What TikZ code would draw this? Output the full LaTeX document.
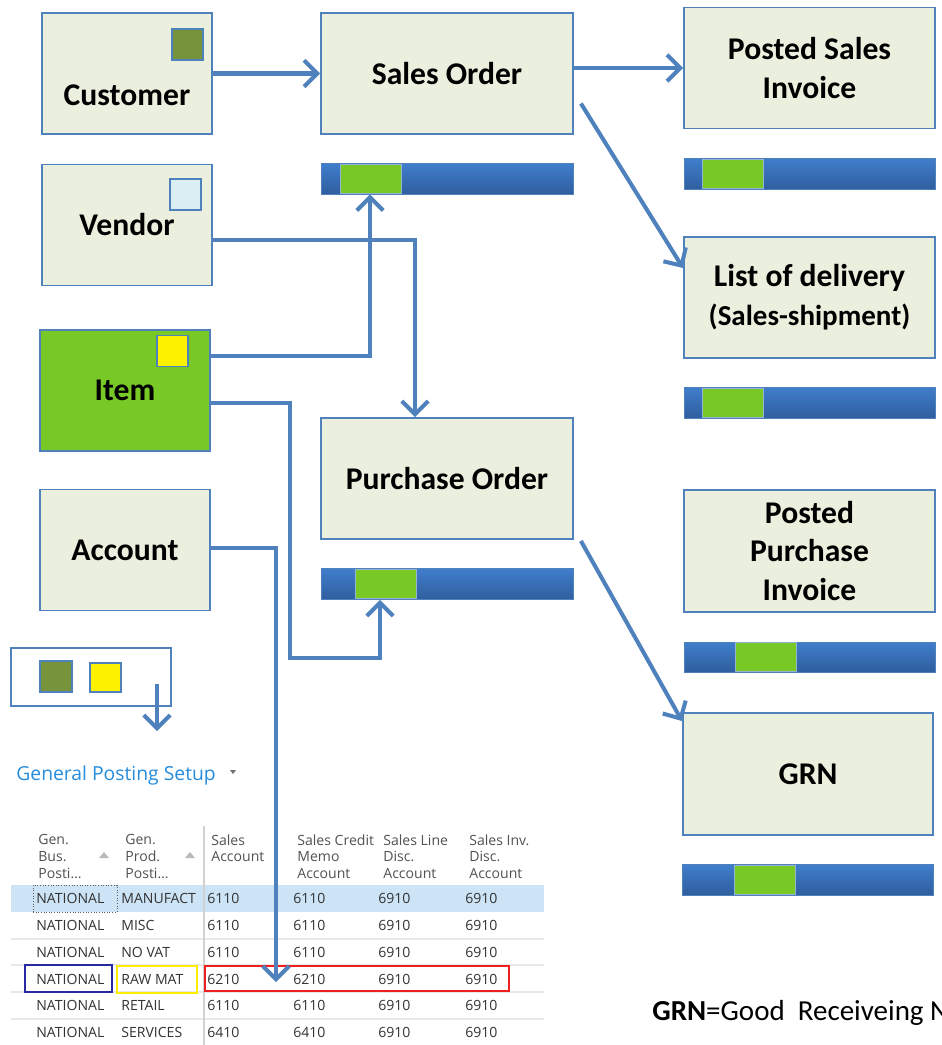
\documentclass[tikz,border=0pt]{standalone}
\usepackage{fontspec}
\setmainfont{Carlito}
\newfontfamily\navfont{Open Sans}
\usetikzlibrary{arrows.meta}
\definecolor{boxline}{RGB}{79,129,189}
\definecolor{boxfill}{RGB}{235,240,222}
\definecolor{itemgreen}{RGB}{120,201,38}
\definecolor{olivesq}{RGB}{119,147,60}
\definecolor{paleblue}{RGB}{219,238,244}
\definecolor{bartop}{RGB}{64,126,204}
\definecolor{barbottom}{RGB}{47,94,158}
\definecolor{navblue}{RGB}{38,140,220}
\definecolor{rowsel}{RGB}{205,228,247}
\definecolor{gridgrey}{RGB}{232,232,232}
\definecolor{tabtext}{RGB}{51,51,51}
\begin{document}
\begin{tikzpicture}[x=0.02cm, y=-0.02cm]
%Declaration of styles
	\tikzstyle{box} = [rectangle, draw=boxline, line width=1.1pt, fill=boxfill, align=center, font=\bfseries\fontsize{18}{22}\selectfont, minimum width=3.4cm, minimum height=2.42cm, inner sep=0pt] %style for the boxes
	\tikzstyle{wide} = [box, minimum width=5.04cm] %style for the document boxes
	\tikzstyle{bar} = [rectangle, draw=boxline, line width=0.5pt, top color=bartop, bottom color=barbottom, minimum width=5.04cm, minimum height=0.62cm, inner sep=0pt] %style for the blue bars
	\tikzstyle{slider} = [rectangle, fill=itemgreen, draw=boxline!60, line width=0.4pt, minimum width=1.22cm, minimum height=0.58cm, inner sep=0pt] %green part of a bar
	\tikzstyle{swatch} = [rectangle, draw=boxline, line width=0.8pt, minimum size=0.62cm, inner sep=0pt] %small coloured squares
	\tikzstyle{conn} = [draw=boxline, line width=2.3pt, -{Straight Barb[length=7.5pt, width=15pt]}] %style for the arrows
	\tikzstyle{head} = [anchor=north west, inner sep=0pt, align=left, text=tabtext!85, font=\navfont\fontsize{8}{9.6}\selectfont] %table header
	\tikzstyle{cell} = [anchor=base west, inner sep=0pt, text=tabtext, font=\navfont\fontsize{8}{9.6}\selectfont] %table cells
	\tikzstyle{hilite} = [rectangle, line width=1.1pt, inner sep=0pt, minimum height=0.54cm] %marked cells
	\useasboundingbox (0,0) rectangle (942,1045);
	\fill[white] (0,0) rectangle (942,1045);
%Nodes, the elements of the graphic
	\node [box] (cust) at (127,73.5) {};
	\node [swatch, fill=olivesq] (custsq) at (187.5,44.5) {};
	\node [font=\bfseries\fontsize{18}{22}\selectfont] (custtxt) at (127,95) {Customer};
	\node [box] (ven) at (127,225) {Vendor};
	\node [swatch, fill=paleblue] (vensq) at (185.5,194.5) {};
	\node [box, fill=itemgreen] (item) at (125,390.5) {Item};
	\node [swatch, fill=yellow] (itemsq) at (172.5,351) {};
	\node [box] (acc) at (125,550) {Account};
	\node [wide] (so) at (447,73.5) {Sales Order};
	\node [bar] (sobar) at (447,178.5) {};
	\node [slider] (soslider) at (370.5,178.5) {};
	\node [wide] (po) at (447,478.5) {Purchase Order};
	\node [bar] (pobar) at (447,584) {};
	\node [slider] (poslider) at (385.5,584) {};
	\node [wide, minimum width=5.02cm] (psi) at (809.5,68) {Posted Sales\\Invoice};
	\node [bar, minimum width=5.02cm] (psibar) at (809.5,174) {};
	\node [slider] (psislider) at (733,174) {};
	\node [wide, minimum width=5.02cm] (ld) at (809.5,297.5) {List of delivery\\\fontsize{16.5}{20}\selectfont(Sales-shipment)};
	\node [bar, minimum width=5.02cm] (ldbar) at (809.5,402.5) {};
	\node [slider] (ldslider) at (733,402.5) {};
	\node [wide, minimum width=5.02cm, minimum height=2.44cm] (ppi) at (809.5,551) {Posted\\Purchase\\Invoice};
	\node [bar, minimum width=5.02cm, minimum height=0.6cm] (ppibar) at (809.5,657) {};
	\node [slider] (ppislider) at (766,657) {};
	\node [wide, minimum width=5.0cm, minimum height=2.44cm] (grn) at (808,774) {GRN};
	\node [bar, minimum width=5.02cm] (grnbar) at (807.5,879.5) {};
	\node [slider] (grnslider) at (765,879.5) {};
%legend box
	\node [rectangle, draw=boxline, line width=0.8pt, minimum width=3.2cm, minimum height=1.16cm] (legend) at (91,677) {};
	\node [swatch, fill=olivesq, minimum height=0.62cm, minimum width=0.64cm] (legolive) at (56,676.5) {};
	\node [swatch, fill=yellow, minimum height=0.58cm] (legyellow) at (105.5,677.5) {};
%arrows
	\draw [conn] (cust) -- (so);
	\draw [conn] (psi.west -| so.east) -- (psi.west);
	\draw [conn] ([shift={(7,30)}]so.east) -- ([shift={(0,-29.5)}]ld.west);
	\draw [conn] ([shift={(0,15)}]ven.east) -| ([shift={(-32,0)}]po.north);
	\draw [conn] ([shift={(0,-34.5)}]item.east) -| ([shift={(-77,0)}]sobar.south);
	\coordinate (itembend) at (290,658);
	\draw [conn] ([shift={(0,12.5)}]item.east) -| (itembend) -| ([shift={(-67,0)}]pobar.south);
	\draw [conn] ([shift={(7,1)}]po.south east) -- ([shift={(0,9)}]grn.north west);
	\coordinate (legstart) at (157,684);
	\coordinate (legend) at (157,731);
	\draw [conn] (legstart) -- (legend);
%table
	\node [anchor=base west, inner sep=0pt, text=navblue, font=\navfont\fontsize{11}{13}\selectfont] (gpstitle) at (16,780) {General Posting Setup};
	\fill [tabtext!70] (230,770) -- (236,770) -- (233,774) -- cycle;
	\fill [rowsel] (11,885) rectangle (544,912);
	\draw [gridgrey, line width=0.6pt] (11,939) -- (544,939) (11,965) -- (544,965) (11,992) -- (544,992) (11,1019) -- (544,1019);
	\draw [gridgrey!90!black, line width=0.6pt] (204,826) -- (204,1045);
	\fill [gray!55] (99,858) -- (109,858) -- (104,852) -- cycle;
	\fill [gray!55] (185,858) -- (195,858) -- (190,852) -- cycle;
	\node [head] (h1) at (38,834) {Gen.\\Bus.\\Posti…};
	\node [head] (h2) at (125,834) {Gen.\\Prod.\\Posti…};
	\node [head] (h3) at (211,834) {Sales\\Account};
	\node [head] (h4) at (297,834) {Sales Credit\\Memo\\Account};
	\node [head] (h5) at (383,834) {Sales Line\\Disc.\\Account};
	\node [head] (h6) at (469,834) {Sales Inv.\\Disc.\\Account};
	\node [rectangle, draw=tabtext!80, densely dotted, line width=0.5pt, minimum width=1.68cm, minimum height=0.54cm] (selcell) at (75,898.5) {};
	\node [cell] (r1a) at (36,903) {NATIONAL}; \node [cell] (r1b) at (121,903) {MANUFACT}; \node [cell] (r1c) at (207,903) {6110}; \node [cell] (r1d) at (293,903) {6110}; \node [cell] (r1e) at (378,903) {6910}; \node [cell] (r1f) at (465,903) {6910};
	\node [cell] (r2a) at (36,930) {NATIONAL}; \node [cell] (r2b) at (121,930) {MISC}; \node [cell] (r2c) at (207,930) {6110}; \node [cell] (r2d) at (293,930) {6110}; \node [cell] (r2e) at (378,930) {6910}; \node [cell] (r2f) at (465,930) {6910};
	\node [cell] (r3a) at (36,957) {NATIONAL}; \node [cell] (r3b) at (121,957) {NO VAT}; \node [cell] (r3c) at (207,957) {6110}; \node [cell] (r3d) at (293,957) {6110}; \node [cell] (r3e) at (378,957) {6910}; \node [cell] (r3f) at (465,957) {6910};
	\node [cell] (r4a) at (36,984) {NATIONAL}; \node [cell] (r4b) at (121,984) {RAW MAT}; \node [cell] (r4c) at (207,984) {6210}; \node [cell] (r4d) at (293,984) {6210}; \node [cell] (r4e) at (378,984) {6910}; \node [cell] (r4f) at (465,984) {6910};
	\node [cell] (r5a) at (36,1010) {NATIONAL}; \node [cell] (r5b) at (121,1010) {RETAIL}; \node [cell] (r5c) at (207,1010) {6110}; \node [cell] (r5d) at (293,1010) {6110}; \node [cell] (r5e) at (378,1010) {6910}; \node [cell] (r5f) at (465,1010) {6910};
	\node [cell] (r6a) at (36,1037) {NATIONAL}; \node [cell] (r6b) at (121,1037) {SERVICES}; \node [cell] (r6c) at (207,1037) {6410}; \node [cell] (r6d) at (293,1037) {6410}; \node [cell] (r6e) at (378,1037) {6910}; \node [cell] (r6f) at (465,1037) {6910};
	\node [hilite, draw={rgb,255:red,40;green,40;blue,160}, minimum width=1.74cm] (busbox) at (68.5,978.5) {};
	\node [hilite, draw={rgb,255:red,255;green,238;blue,0}, minimum width=1.6cm] (prodbox) at (157,979.5) {};
	\node [hilite, draw={rgb,255:red,240;green,30;blue,30}, minimum width=6.08cm, minimum height=0.5cm] (accbox) at (357,978.5) {};
	\coordinate (acctip) at (276,982);
	\draw [conn] ([shift={(0,-2)}]acc.east) -| (acctip);
	\node [anchor=base west, inner sep=0pt, font=\fontsize{16.5}{19}\selectfont] (grnnote) at (652,1020) {\textbf{GRN}=Good\ \ Receiveing N};
\end{tikzpicture}
\end{document}
